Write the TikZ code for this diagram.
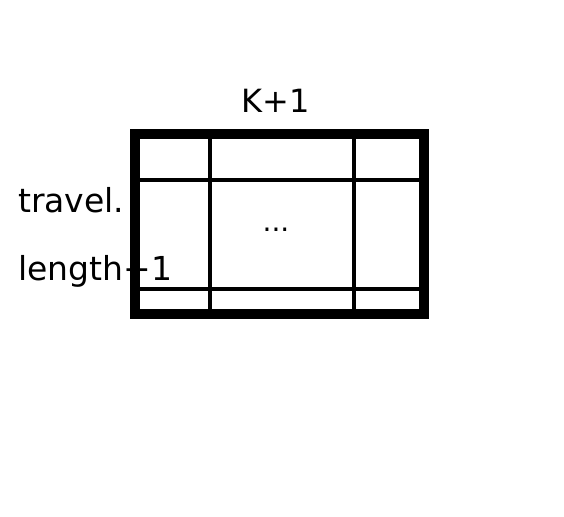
\documentclass[tikz,border=0pt]{standalone}
\usepackage{fontspec}
\setmainfont{DejaVu Sans}
\begin{document}
\begin{tikzpicture}[x=1pt,y=-1pt,
  lbl/.style={inner sep=0pt,font=\fontsize{32}{38}\selectfont},
  side/.style={lbl,font=\fontsize{33}{39}\selectfont},
  grid/.style={line width=3.5pt},
  frame/.style={line width=10pt}]
\useasboundingbox (0,0) rectangle (564,516);
\coordinate (tl) at (135,134);
\coordinate (br) at (423.5,314);
\draw[grid] (210,134) -- (210,314);
\draw[grid] (354,134) -- (354,314);
\draw[grid] (135,180) -- (423.5,180);
\draw[grid] (135,289) -- (423.5,289);
\draw[frame] (tl) rectangle (br);
\node[lbl,anchor=base] (k) at (276,113) {K+1};
\node[side,anchor=base west] (t) at (18,212) {travel.};
\node[side,anchor=base west] (l) at (18,280) {length+1};
\node[lbl,font=\fontsize{28}{34}\selectfont,anchor=base] (d) at (276,231) {...};
\end{tikzpicture}
\end{document}
